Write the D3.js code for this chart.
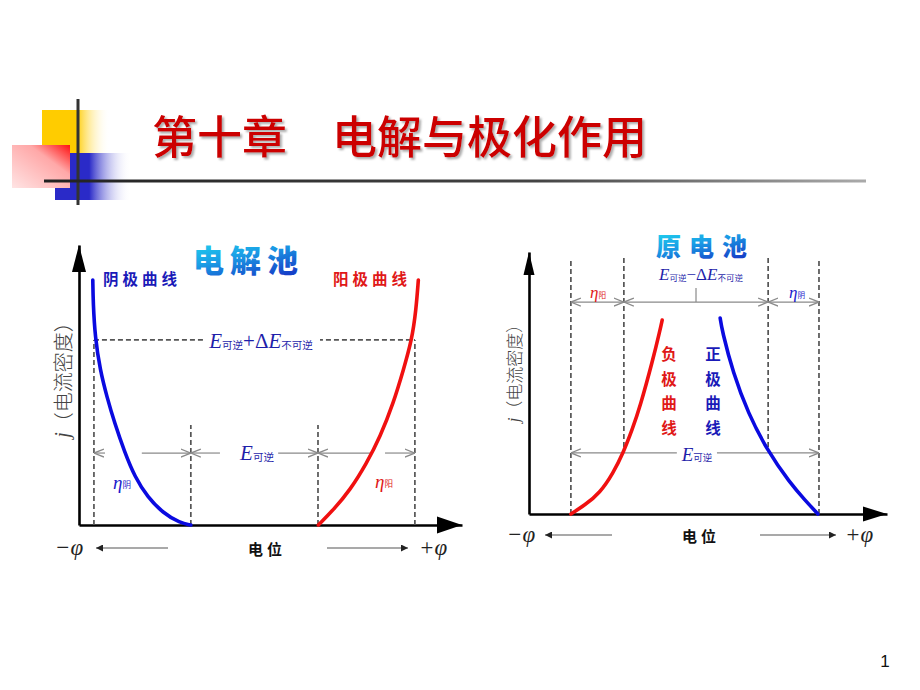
<!DOCTYPE html>
<html><head><meta charset="utf-8">
<script src="https://cdn.jsdelivr.net/npm/d3@7"></script>
<style>body{margin:0;background:#fff}svg{display:block}</style>
</head><body>
<script>
// ---------- DATA ----------
const titleText = "第十章　电解与极化作用";
const pageNumber = "1";
const leftTitle = "电解池";
const rightTitle = "原电池";
const yAxisLabel = "（电流密度）";
const potentialLabel = "电位";

// Left chart (electrolytic cell): potential 0..100, current density 0..100
const leftGuides = [3.9, 29.2, 62.4, 87.7];
const leftGuideTops = [66.1, 35.7, 35.7, 66.1];
const leftTotalLevel = 66.1;
const leftArrowLevel = 25.7;
const leftCathodeX = [3.6, 3.7, 4.2, 5.5, 7.3, 9.3, 11.9, 14.6, 17.9, 21.9, 26.4, 29.2];
const leftCathodeY = [87.5, 79.3, 67.1, 55.4, 45.7, 36.4, 26.1, 17.1, 10.0, 4.3, 0.7, 0];
const leftAnodeX = [62.5, 66.4, 70.8, 75.1, 78.6, 82.1, 84.7, 86.9, 88.0, 88.6];
const leftAnodeY = [0, 5.4, 12.5, 22.1, 31.4, 43.6, 55.4, 66.1, 76.8, 87.5];

// Right chart (galvanic cell)
const rightGuides = [11.7, 26.5, 66.8, 81.0];
const rightGuideTop = 97.7;
const rightGuideBottoms = [0, 25.6, 25.6, 0];
const rightTopArrowLevel = 80.9;
const rightTickTop = 86.3;
const rightArrowLevel = 23.3;
const rightNegX = [11.7, 15.6, 19.8, 23.5, 26.3, 28.8, 31.0, 34.6, 36.6, 37.2];
const rightNegY = [0, 3.4, 8.0, 15.6, 23.3, 32.1, 40.8, 58.8, 70.2, 74.0];
const rightPosX = [53.4, 53.9, 57.0, 61.2, 66.5, 72.9, 77.1, 80.7];
const rightPosY = [74.8, 70.2, 53.8, 38.5, 24.4, 11.8, 5.3, 0];

const negLabel = ["负","极","曲","线"];
const posLabel = ["正","极","曲","线"];

// ---------- DRAW ----------
const W = 920, H = 690;
const svg = d3.select("body").append("svg").attr("width", W).attr("height", H);
const defs = svg.append("defs");
const CJK = "'Noto Sans CJK SC','Noto Sans',sans-serif";
const SERIF = "'Liberation Serif','DejaVu Serif',serif";

function lg(id, x1, y1, x2, y2, stops) {
  const g = defs.append("linearGradient").attr("id", id)
    .attr("x1", x1).attr("y1", y1).attr("x2", x2).attr("y2", y2);
  stops.forEach(s => g.append("stop").attr("offset", s[0]).attr("stop-color", s[1]).attr("stop-opacity", s[2] == null ? 1 : s[2]));
}
lg("gYellow", 0, 0, 1, 0, [[0, "#ffcc00"], [0.5, "#ffcc00"], [1, "#ffffff", 0]]);
lg("gBlue", 0, 0, 1, 0, [[0, "#2a2ac8"], [0.45, "#2a2ac8"], [1, "#ffffff", 0]]);
lg("gPink", 1, 0, 0, 1, [[0, "#ff1010"], [0.35, "#ffa8a8"], [1, "#ffe4e4"]]);
lg("gRule", 0, 0, 1, 0, [[0, "#222"], [0.6, "#444"], [1, "#aaa"]]);
lg("gTitle", 0, 0, 0.6, 1, [[0, "#22e0f0"], [0.5, "#1a9fe6"], [1, "#1540c8"]]);
const f = defs.append("filter").attr("id", "shadow").attr("x", "-5%").attr("y", "-20%").attr("width", "110%").attr("height", "140%");
f.append("feDropShadow").attr("dx", 2).attr("dy", 2).attr("stdDeviation", 0.8).attr("flood-color", "#888").attr("flood-opacity", 0.7);

// decoration
svg.append("rect").attr("x", 42).attr("y", 110).attr("width", 68).attr("height", 43).attr("fill", "url(#gYellow)");
svg.append("rect").attr("x", 55).attr("y", 153).attr("width", 76).attr("height", 47).attr("fill", "url(#gBlue)");
svg.append("rect").attr("x", 12).attr("y", 145).attr("width", 58).attr("height", 43).attr("fill", "url(#gPink)");
svg.append("line").attr("x1", 78).attr("x2", 78).attr("y1", 99).attr("y2", 205).attr("stroke", "#333").attr("stroke-width", 3);
svg.append("rect").attr("x", 44).attr("y", 179.5).attr("width", 822).attr("height", 3).attr("fill", "url(#gRule)");

// title
svg.append("text").attr("x", 152).attr("y", 134).attr("dominant-baseline", "central")
  .attr("font-family", CJK).attr("font-size", 45).attr("font-weight", 500)
  .attr("fill", "#cc0000").attr("filter", "url(#shadow)").text(titleText);

// page number
svg.append("text").attr("x", 885).attr("y", 661).attr("text-anchor", "middle").attr("dominant-baseline", "central")
  .attr("font-family", "'Liberation Sans',sans-serif").attr("font-size", 17).attr("fill", "#111").text(pageNumber);

// markers
function chevron(id, color) {
  defs.append("marker").attr("id", id).attr("viewBox", "0 0 10 10").attr("refX", 10).attr("refY", 5)
    .attr("markerWidth", 10).attr("markerHeight", 10).attr("markerUnits", "userSpaceOnUse").attr("orient", "auto-start-reverse")
    .append("path").attr("d", "M0,1 L10,5 L0,9").attr("fill", "none").attr("stroke", color).attr("stroke-width", 1.3);
}
chevron("chev", "#8a8a8a");
defs.append("marker").attr("id", "tri").attr("viewBox", "0 0 10 10").attr("refX", 10).attr("refY", 5)
  .attr("markerWidth", 9).attr("markerHeight", 7).attr("markerUnits", "userSpaceOnUse").attr("orient", "auto")
  .append("path").attr("d", "M0,0 L10,5 L0,10 Z").attr("fill", "#222");

function makeChart(cfg) {
  const g = svg.append("g");
  const x = d3.scaleLinear().domain([0, 100]).range(cfg.xRange);
  const y = d3.scaleLinear().domain([0, 100]).range(cfg.yRange);
  const axX = g.append("g").attr("transform", `translate(0,${cfg.yRange[0]})`)
    .call(d3.axisBottom(x).tickValues([]).tickSizeOuter(0));
  const axY = g.append("g").attr("transform", `translate(${cfg.xRange[0]},0)`)
    .call(d3.axisLeft(y).tickValues([]).tickSizeOuter(0));
  [axX, axY].forEach(a => a.select(".domain").attr("stroke", "#000").attr("stroke-width", 2.6));
  const xt = cfg.xRange[1], yb = cfg.yRange[0];
  g.append("path").attr("d", `M${xt},${yb} L${xt - cfg.ah[0]},${yb - cfg.ah[1] / 2} L${xt - cfg.ah[0]},${yb + cfg.ah[1] / 2} Z`).attr("fill", "#000");
  const yt = cfg.yRange[1], xl = cfg.xRange[0];
  g.append("path").attr("d", `M${xl},${yt} L${xl - cfg.av[1] / 2},${yt + cfg.av[0]} L${xl + cfg.av[1] / 2},${yt + cfg.av[0]} Z`).attr("fill", "#000");
  return { g, x, y };
}

function dashedV(g, x, y, xv, y0, y1) {
  g.append("line").attr("x1", x(xv)).attr("x2", x(xv)).attr("y1", y(y0)).attr("y2", y(y1))
    .attr("stroke", "#555").attr("stroke-width", 1.7).attr("stroke-dasharray", "5,3");
}
function dblArrow(g, x, y, a, b, lvl, gap) {
  const yy = y(lvl);
  if (gap) {
    g.append("line").attr("x1", x(gap[0])).attr("x2", x(a)).attr("y1", yy).attr("y2", yy)
      .attr("stroke", "#8a8a8a").attr("stroke-width", 1.2).attr("marker-end", "url(#chev)");
    g.append("line").attr("x1", x(gap[1])).attr("x2", x(b)).attr("y1", yy).attr("y2", yy)
      .attr("stroke", "#8a8a8a").attr("stroke-width", 1.2).attr("marker-end", "url(#chev)");
  } else {
    g.append("line").attr("x1", x(a)).attr("x2", x(b)).attr("y1", yy).attr("y2", yy)
      .attr("stroke", "#8a8a8a").attr("stroke-width", 1.2)
      .attr("marker-start", "url(#chev)").attr("marker-end", "url(#chev)");
  }
}
function curve(g, x, y, xs, ys, color) {
  const line = d3.line().x(d => x(d[0])).y(d => y(d[1])).curve(d3.curveBasis);
  g.append("path").attr("d", line(xs.map((v, i) => [v, ys[i]])))
    .attr("fill", "none").attr("stroke", color).attr("stroke-width", 3.6).attr("stroke-linecap", "round");
}
function eLabel(g, px, py, sign, extra, color, size) {
  const t = g.append("text").attr("x", px).attr("y", py).attr("text-anchor", "middle").attr("dominant-baseline", "central")
    .attr("fill", color).attr("font-size", size);
  t.append("tspan").attr("font-family", SERIF).attr("font-style", "italic").text("E");
  t.append("tspan").attr("font-family", CJK).attr("font-size", size * 0.5).attr("dy", 3).text("可逆");
  if (extra) {
    t.append("tspan").attr("font-family", SERIF).attr("dy", -3).text(sign + "Δ");
    t.append("tspan").attr("font-family", SERIF).attr("font-style", "italic").text("E");
    t.append("tspan").attr("font-family", CJK).attr("font-size", size * 0.5).attr("dy", 3).text("不可逆");
  }
}
function etaLabel(g, px, py, sub, color, size) {
  const t = g.append("text").attr("x", px).attr("y", py).attr("text-anchor", "middle").attr("dominant-baseline", "central")
    .attr("fill", color).attr("font-size", size);
  t.append("tspan").attr("font-family", SERIF).attr("font-style", "italic").text("η");
  t.append("tspan").attr("font-family", CJK).attr("font-size", size * 0.45).attr("dy", 2).text(sub);
}
function yLabel(g, px, py, size) {
  const t = g.append("text").attr("transform", `translate(${px},${py}) rotate(-90)`).attr("text-anchor", "middle")
    .attr("dominant-baseline", "central").attr("fill", "#444").attr("font-size", size);
  t.append("tspan").attr("font-family", SERIF).attr("font-style", "italic").text("j");
  t.append("tspan").attr("font-family", CJK).attr("font-weight", 300).text(yAxisLabel);
}
function bottomRow(g, xm, xp, yy, la, ra, mid, size) {
  g.append("text").attr("x", xm).attr("y", yy).attr("text-anchor", "middle").attr("dominant-baseline", "central")
    .attr("font-family", SERIF).attr("font-size", size).attr("fill", "#222").text("−φ").attr("font-style", "italic");
  g.append("text").attr("x", xp).attr("y", yy).attr("text-anchor", "middle").attr("dominant-baseline", "central")
    .attr("font-family", SERIF).attr("font-size", size).attr("fill", "#222").text("+φ").attr("font-style", "italic");
  [la, ra].forEach(a => g.append("line").attr("x1", a[0]).attr("x2", a[1]).attr("y1", yy + 1).attr("y2", yy + 1)
    .attr("stroke", "#555").attr("stroke-width", 1.1).attr("marker-end", "url(#tri)"));
  g.append("text").attr("x", mid).attr("y", yy + 1).attr("text-anchor", "middle").attr("dominant-baseline", "central")
    .attr("font-family", CJK).attr("font-weight", 700).attr("font-size", 15).attr("letter-spacing", 4).attr("fill", "#111").text(potentialLabel);
}

// ----- LEFT CHART -----
{
  const { g, x, y } = makeChart({ xRange: [79, 462], yRange: [525, 245], ah: [25, 17], av: [27, 14] });
  leftGuides.forEach((v, i) => dashedV(g, x, y, v, 0, leftGuideTops[i]));
  g.append("line").attr("x1", x(leftGuides[0])).attr("x2", x(leftGuides[3])).attr("y1", y(leftTotalLevel)).attr("y2", y(leftTotalLevel))
    .attr("stroke", "#555").attr("stroke-width", 1.7).attr("stroke-dasharray", "5,3");
  g.append("rect").attr("x", 203).attr("y", 330).attr("width", 117).attr("height", 22).attr("fill", "#fff");
  eLabel(g, 261, 341, "+", true, "#1f1faa", 21);
  dblArrow(g, x, y, leftGuides[0], leftGuides[1], leftArrowLevel, [6.8, 16.4]);
  dblArrow(g, x, y, leftGuides[1], leftGuides[2], leftArrowLevel, [36.8, 52.0]);
  dblArrow(g, x, y, leftGuides[2], leftGuides[3], leftArrowLevel, [76.0, 79.9]);
  eLabel(g, 257, 453, "", false, "#1f1faa", 21);
  curve(g, x, y, leftCathodeX, leftCathodeY, "#0a0ae0");
  curve(g, x, y, leftAnodeX, leftAnodeY, "#f01010");
  etaLabel(g, 122, 482, "阴", "#1a1acc", 19);
  etaLabel(g, 384, 481, "阳", "#e01818", 19);
  g.append("text").attr("x", 103).attr("y", 278).attr("dominant-baseline", "central").attr("font-family", CJK)
    .attr("font-weight", 700).attr("font-size", 15.5).attr("letter-spacing", 4).attr("fill", "#1a1ab8").text("阴极曲线");
  g.append("text").attr("x", 333).attr("y", 278).attr("dominant-baseline", "central").attr("font-family", CJK)
    .attr("font-weight", 700).attr("font-size", 15.5).attr("letter-spacing", 4).attr("fill", "#e01818").text("阳极曲线");
  g.append("text").attr("x", 193).attr("y", 258).attr("dominant-baseline", "central").attr("font-family", CJK)
    .attr("font-weight", 900).attr("font-size", 31).attr("letter-spacing", 6).attr("fill", "url(#gTitle)").text(leftTitle);
  yLabel(g, 62, 375, 20);
  bottomRow(g, 69, 433, 547, [168, 96], [327, 408], 267, 23);
}

// ----- RIGHT CHART -----
{
  const { g, x, y } = makeChart({ xRange: [529, 887], yRange: [514, 252], ah: [24, 15], av: [23, 11] });
  rightGuides.forEach((v, i) => dashedV(g, x, y, v, rightGuideBottoms[i], rightGuideTop));
  dblArrow(g, x, y, rightGuides[0], rightGuides[1], rightTopArrowLevel);
  dblArrow(g, x, y, rightGuides[1], rightGuides[2], rightTopArrowLevel);
  dblArrow(g, x, y, rightGuides[2], rightGuides[3], rightTopArrowLevel);
  const tx = x((rightGuides[1] + rightGuides[2]) / 2);
  g.append("line").attr("x1", tx).attr("x2", tx).attr("y1", y(rightTickTop)).attr("y2", y(rightTopArrowLevel))
    .attr("stroke", "#8a8a8a").attr("stroke-width", 1.2);
  eLabel(g, 701, 274, "−", true, "#1f1faa", 17);
  etaLabel(g, 598, 292, "阳", "#e01818", 17);
  etaLabel(g, 797, 292, "阴", "#1a1acc", 17);
  dblArrow(g, x, y, rightGuides[0], rightGuides[3], rightArrowLevel, [41.3, 52.5]);
  eLabel(g, 697, 454, "", false, "#1f1faa", 19);
  curve(g, x, y, rightNegX, rightNegY, "#f01010");
  curve(g, x, y, rightPosX, rightPosY, "#0a0ae0");
  negLabel.forEach((c, i) => g.append("text").attr("x", 669).attr("y", 353 + i * 24.7).attr("text-anchor", "middle")
    .attr("dominant-baseline", "central").attr("font-family", CJK).attr("font-weight", 700).attr("font-size", 15.5)
    .attr("fill", "#e01818").text(c));
  posLabel.forEach((c, i) => g.append("text").attr("x", 713).attr("y", 353 + i * 24.7).attr("text-anchor", "middle")
    .attr("dominant-baseline", "central").attr("font-family", CJK).attr("font-weight", 700).attr("font-size", 15.5)
    .attr("fill", "#1a1ab8").text(c));
  g.append("text").attr("x", 656).attr("y", 245).attr("dominant-baseline", "central").attr("font-family", CJK)
    .attr("font-weight", 900).attr("font-size", 25).attr("letter-spacing", 8).attr("fill", "url(#gTitle)").text(rightTitle);
  yLabel(g, 513, 369, 17);
  bottomRow(g, 521, 859, 534, [612, 545], [760, 836], 701, 23);
}
</script>
</body></html>
